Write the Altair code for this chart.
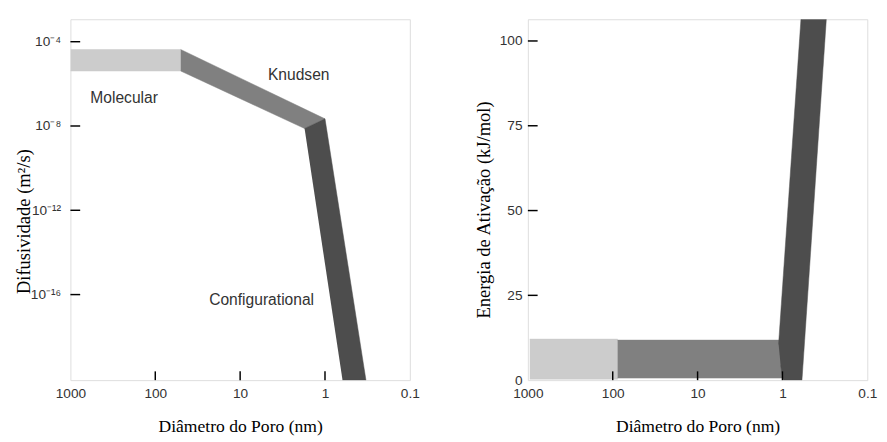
import altair as alt
import pandas as pd

# ---------------- data ----------------
# Left panel: pore diameter (nm) vs log10 diffusivity (m2/s) band outlines
mol_d = [1000, 50.2, 50.2, 1000]
mol_e = [-4.37, -4.37, -5.39, -5.39]
knu_d = [50.2, 1.0, 1.74, 50.2]
knu_e = [-4.37, -7.66, -8.12, -5.39]
con_d = [1.74, 1.0, 0.329, 0.621]
con_e = [-8.12, -7.66, -20.06, -20.06]

# Right panel: pore diameter (nm) vs activation energy (kJ/mol) band outlines
lgt_d = [950, 87.7, 87.7, 950]
lgt_E = [0.3, 0.3, 12.1, 12.1]
med_d = [87.7, 1.0, 1.0, 87.7]
med_E = [0.6, 0.6, 11.8, 11.8]
drk_d = [1.11, 0.605, 0.304, 0.589, 0.975, 1.05]
drk_E = [10.6, 106.4, 106.4, 0.0, 0.0, 4.3]

diam_ticks = [1000, 100, 10, 1, 0.1]
diam_inner_ticks = [100, 10, 1]
dif_exps = [-4, -8, -12, -16]
dif_labels = ["10⁻⁴", "10⁻⁸", "10⁻¹²", "10⁻¹⁶"]
ea_ticks = [0, 25, 50, 75, 100]
ea_inner_ticks = [25, 50, 75, 100]

reg_names = ["Molecular", "Knudsen", "Configurational"]
reg_d = [233, 2.04, 5.58]
reg_e = [-6.70, -5.58, -16.28]

LIGHT, MED, DARK = "#cccccc", "#808080", "#4d4d4d"
W, H = 348, 370
SERIF = "Liberation Serif"
SANS = "Liberation Sans"

# ---------------- scales / axes ----------------
xscale = alt.Scale(type="log", domain=[0.1, 1000], reverse=True, nice=False)
xaxis = alt.Axis(values=diam_ticks, format="~g", ticks=False, grid=False, domain=False,
                 labelFlush=False, labelOverlap=False,
                 labelFont=SANS, labelFontSize=14, labelColor="#333", labelPadding=7,
                 title="Diâmetro do Poro (nm)", titleFont=SERIF, titleFontSize=18,
                 titleFontWeight="normal", titleColor="#000", titlePadding=18)

ylog_scale = alt.Scale(type="log", domain=[10 ** -20.06, 10 ** -2.935], nice=False)
lab_expr = " : ".join(
    [f"round(log(datum.value)/LN10) == {e} ? '{l}'" for e, l in zip(dif_exps, dif_labels)]
) + " : ''"
ylog_axis = alt.Axis(values=[10.0 ** e for e in dif_exps], labelExpr=lab_expr, ticks=False,
                     grid=False, domain=False, labelFlush=False, labelOverlap=False,
                     labelFont=SANS, labelFontSize=14,
                     labelColor="#333", labelPadding=10,
                     title="Difusividade (m²/s)", titleFont=SERIF, titleFontSize=19,
                     titleFontWeight="normal", titleColor="#000", titleX=-48, titleY=207,
                     titleBaseline="middle")

ylin_scale = alt.Scale(domain=[0, 106.4], nice=False, zero=False)
ylin_axis = alt.Axis(values=ea_ticks, ticks=False, grid=False, domain=False,
                     labelFlush=False, labelOverlap=False,
                     labelFont=SANS, labelFontSize=14, labelColor="#333", labelPadding=6,
                     title="Energia de Ativação (kJ/mol)", titleFont=SERIF, titleFontSize=19,
                     titleFontWeight="normal", titleColor="#000", titleX=-45, titleY=195,
                     titleBaseline="middle")

X = alt.X("d:Q", scale=xscale, axis=xaxis)
YL = alt.Y("D:Q", scale=ylog_scale, axis=ylog_axis)
YR = alt.Y("E:Q", scale=ylin_scale, axis=ylin_axis)


def poly(ds, vs, vname, color, Y):
    df = pd.DataFrame({"d": ds, vname: vs, "i": list(range(len(ds)))})
    return alt.Chart(df).mark_line(fill=color, stroke=color, strokeWidth=0.5, clip=True).encode(
        x=X, y=Y, order="i:Q")


# ---------------- left panel ----------------
lp = []
for ds, es, c in [(mol_d, mol_e, LIGHT), (knu_d, knu_e, MED), (con_d, con_e, DARK)]:
    lp.append(poly(ds, [10 ** e for e in es], "D", c, YL))

xt_left = alt.Chart(pd.DataFrame({"d": diam_inner_ticks})).mark_rule(
    color="#000", strokeWidth=1.5).encode(x=X, y=alt.value(H), y2=alt.value(H - 9))
yt_left = alt.Chart(pd.DataFrame({"D": [10.0 ** e for e in dif_exps]})).mark_rule(
    color="#000", strokeWidth=1.5).encode(y=YL, x=alt.value(0), x2=alt.value(10))
txt_left = alt.Chart(pd.DataFrame({"d": reg_d, "D": [10 ** e for e in reg_e], "t": reg_names})).mark_text(
    font=SANS, fontSize=16, color="#333", align="center", baseline="middle").encode(
    x=X, y=YL, text="t:N")

left = alt.layer(*lp, xt_left, yt_left, txt_left).properties(width=W, height=H)

# ---------------- right panel ----------------
rp = []
for ds, Es, c in [(lgt_d, lgt_E, LIGHT), (med_d, med_E, MED), (drk_d, drk_E, DARK)]:
    rp.append(poly(ds, Es, "E", c, YR))

xt_right = alt.Chart(pd.DataFrame({"d": diam_inner_ticks})).mark_rule(
    color="#000", strokeWidth=1.5).encode(x=X, y=alt.value(H), y2=alt.value(H - 9))
yt_right = alt.Chart(pd.DataFrame({"E": ea_inner_ticks})).mark_rule(
    color="#000", strokeWidth=1.5).encode(y=YR, x=alt.value(0), x2=alt.value(10))

right = alt.layer(*rp, xt_right, yt_right).properties(width=W, height=H)

chart = alt.hconcat(left, right, spacing=55).resolve_scale(y="independent").properties(
    padding={"left": 6, "top": 5, "right": 1, "bottom": 5}
).configure_view(stroke="#000", strokeWidth=1.5).configure(background="#ffffff")

chart.save("out.html", embed_options={"renderer": "svg", "actions": False})
